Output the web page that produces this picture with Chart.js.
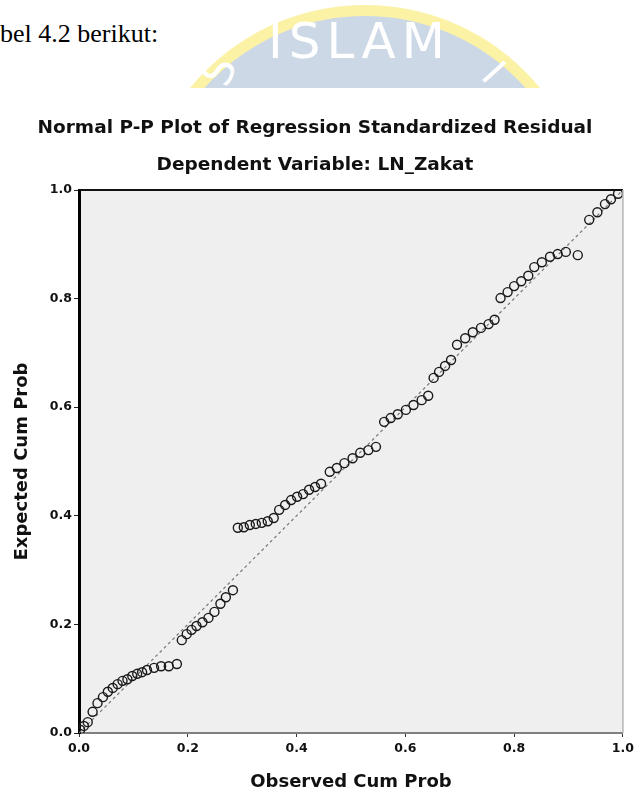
<!DOCTYPE html>
<html>
<head>
<meta charset="utf-8">
<script src="https://cdn.jsdelivr.net/npm/chart.js@4"></script>
<style>
  body { margin: 0; width: 638px; height: 798px; background: #fff; position: relative; overflow: hidden; }
  #intro { position: absolute; left: 0; top: 19px; font-family: 'Liberation Serif', serif; font-size: 26px; color: #000; }
  #mark { position: absolute; left: 0; top: 0; width: 638px; height: 88px; overflow: hidden; }
  #ring { position: absolute; left: 139px; top: 5px; width: 452px; height: 452px; border-radius: 50%;
          background: #cdd8e7; border: 11px solid #fcf2a6; box-sizing: border-box; }
  .wm { position: absolute; color: #fff; font-family: 'DejaVu Sans', sans-serif; line-height: 1; }
  #wrap { position: absolute; left: 0; top: 88px; width: 638px; height: 710px; background: #fff; }
</style>
</head>
<body>
<div id="intro">bel 4.2 berikut:</div>
<div id="mark">
  <div id="ring"></div>
  <div class="wm" style="left:268px;top:16px;font-size:50px;letter-spacing:6px;">ISLAM</div>
  <div class="wm" style="left:206px;top:50px;font-size:42px;transform:rotate(-66deg);">S</div>
  <div class="wm" style="left:488px;top:52px;font-size:40px;transform:rotate(48deg);">I</div>
</div>
<div id="wrap"><canvas id="myChart" width="638" height="710"></canvas></div>
<script>
'use strict';
// data
let observedCumProb = [0.002, 0.009, 0.016, 0.025, 0.034, 0.044, 0.053, 0.062, 0.071, 0.080,
  0.089, 0.098, 0.107, 0.116, 0.125, 0.138, 0.151, 0.165, 0.180, 0.189,
  0.198, 0.207, 0.216, 0.227, 0.238, 0.249, 0.260, 0.270, 0.283, 0.292,
  0.303, 0.314, 0.325, 0.336, 0.347, 0.358, 0.368, 0.379, 0.390, 0.401,
  0.412, 0.423, 0.434, 0.445, 0.461, 0.474, 0.488, 0.503, 0.517, 0.532,
  0.546, 0.561, 0.573, 0.586, 0.601, 0.615, 0.630, 0.642, 0.652, 0.662,
  0.673, 0.684, 0.695, 0.710, 0.724, 0.739, 0.753, 0.764, 0.775, 0.788,
  0.800, 0.813, 0.826, 0.837, 0.851, 0.866, 0.880, 0.895, 0.917, 0.938,
  0.953, 0.967, 0.978, 0.991];
let expectedCumProb = [0.006, 0.013, 0.020, 0.039, 0.055, 0.066, 0.076, 0.083, 0.090, 0.096,
  0.099, 0.105, 0.109, 0.112, 0.116, 0.120, 0.123, 0.123, 0.127, 0.171,
  0.182, 0.190, 0.197, 0.204, 0.212, 0.223, 0.238, 0.250, 0.263, 0.378,
  0.379, 0.383, 0.385, 0.387, 0.390, 0.396, 0.411, 0.420, 0.429, 0.435,
  0.440, 0.448, 0.453, 0.459, 0.481, 0.488, 0.497, 0.506, 0.516, 0.521,
  0.527, 0.573, 0.580, 0.587, 0.595, 0.604, 0.613, 0.621, 0.654, 0.665,
  0.676, 0.687, 0.715, 0.727, 0.738, 0.746, 0.753, 0.761, 0.801, 0.812,
  0.823, 0.832, 0.842, 0.858, 0.867, 0.877, 0.882, 0.886, 0.880, 0.945,
  0.959, 0.974, 0.983, 0.993];
let refLineX = [0, 1];
let refLineY = [0, 1];
let tickValues = [0, 0.2, 0.4, 0.6, 0.8, 1.0];
let tickLabels = ['0.0', '0.2', '0.4', '0.6', '0.8', '1.0'];

let points = [];
for (let i = 0; i < observedCumProb.length; i++) {
  points.push({ x: observedCumProb[i], y: expectedCumProb[i] });
}
let refLine = [];
for (let i = 0; i < refLineX.length; i++) {
  refLine.push({ x: refLineX[i], y: refLineY[i] });
}

function tickText(value) {
  let idx = tickValues.findIndex(v => Math.abs(v - value) < 1e-6);
  return idx >= 0 ? tickLabels[idx] : '';
}

// grey plot panel + top/right frame
let panelPlugin = {
  id: 'panel',
  beforeDraw(chart) {
    let { ctx, chartArea: a } = chart;
    ctx.save();
    ctx.fillStyle = '#efefef';
    ctx.fillRect(a.left, a.top, a.right - a.left, a.bottom - a.top);
    ctx.restore();
  },
  afterDraw(chart) {
    let { ctx, chartArea: a } = chart;
    ctx.save();
    ctx.strokeStyle = '#111';
    ctx.lineWidth = 2;
    ctx.beginPath();
    ctx.moveTo(a.left, a.top);
    ctx.lineTo(a.right, a.top);
    ctx.stroke();
    ctx.strokeStyle = '#b5b5b5';
    ctx.lineWidth = 1.5;
    ctx.beginPath();
    ctx.moveTo(a.right, a.top);
    ctx.lineTo(a.right, a.bottom);
    ctx.stroke();
    ctx.restore();
  }
};

let labelFont = { family: '"DejaVu Sans", sans-serif', size: 12.5, weight: 'bold' };
let titleFont = { family: '"DejaVu Sans", sans-serif', size: 18.5, weight: 'bold' };
let axisFont = { family: '"DejaVu Sans", sans-serif', size: 18, weight: 'bold' };

let chartObject = {
  type: 'scatter',
  data: {
    datasets: [{
      label: 'Expected Cum Prob',
      data: points,
      pointStyle: 'circle',
      pointRadius: 4.5,
      backgroundColor: 'rgba(0,0,0,0)',
      borderColor: '#1a1a1a',
      borderWidth: 1.4,
      order: 1
    },
    {
      type: 'line',
      label: 'Reference',
      data: refLine,
      borderColor: '#777',
      borderWidth: 1.2,
      borderDash: [3, 3],
      pointRadius: 0,
      fill: false,
      order: 2
    }]
  },
  options: {
    responsive: false,
    animation: false,
    layout: { padding: { left: 0, right: 8, top: 0, bottom: 0 } },
    plugins: {
      legend: { display: false },
      tooltip: { enabled: false },
      title: {
        display: true,
        text: 'Normal P-P Plot of Regression Standardized Residual',
        color: '#111',
        font: titleFont,
        padding: { top: 28.9, bottom: 0 }
      },
      subtitle: {
        display: true,
        text: 'Dependent Variable: LN_Zakat',
        color: '#111',
        font: titleFont,
        padding: { top: 14.8, bottom: 13.9 }
      }
    },
    scales: {
      x: {
        type: 'linear',
        min: 0,
        max: 1,
        afterBuildTicks: s => { s.ticks = tickValues.map(v => ({ value: v })); },
        afterFit: s => { s.height = 65; },
        ticks: { callback: tickText, color: '#111', font: labelFont, padding: 4, maxRotation: 0 },
        grid: { drawOnChartArea: false, drawTicks: true, tickLength: 4, color: '#333' },
        border: { display: true, color: '#808080', width: 2 },
        title: { display: true, text: 'Observed Cum Prob', color: '#111', font: axisFont, padding: { top: 0, bottom: 5.2 } }
      },
      y: {
        type: 'linear',
        min: 0,
        max: 1,
        afterBuildTicks: s => { s.ticks = tickValues.map(v => ({ value: v })); },
        afterFit: s => { s.width = 79; },
        ticks: { callback: tickText, color: '#111', font: labelFont, padding: 2 },
        grid: { drawOnChartArea: false, drawTicks: true, tickLength: 5, color: '#222' },
        border: { display: true, color: '#000', width: 3 },
        title: { display: true, text: 'Expected Cum Prob', color: '#111', font: axisFont, padding: { top: 11.2, bottom: 0 } }
      }
    }
  },
  plugins: [panelPlugin]
};

let ctx = document.getElementById('myChart').getContext('2d');
let myChart = new Chart(ctx, chartObject);
</script>
</body>
</html>
